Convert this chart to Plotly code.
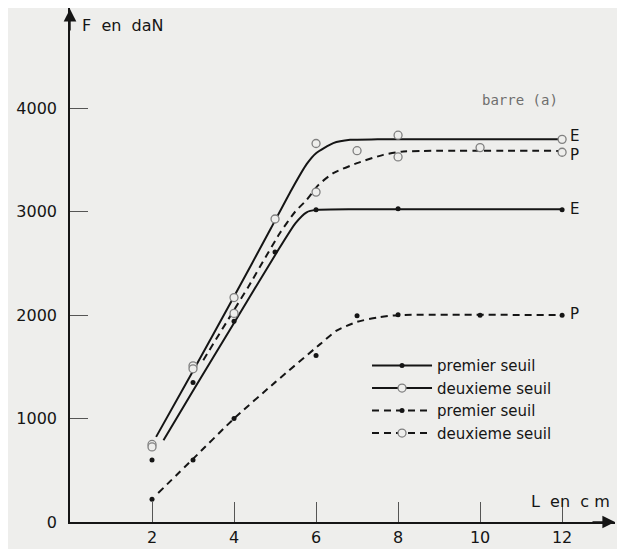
import plotly.graph_objects as go

# ---------------- data ----------------
# E, premier seuil (solid line, filled dots)
E1_L = [2, 3, 4, 5, 6, 8, 12]
E1_F = [600, 1350, 1940, 2610, 3020, 3030, 3020]
E1_curve_L = [2.28, 3, 4, 5, 5.5, 5.77, 6, 7, 12]
E1_curve_F = [790, 1270, 1925, 2580, 2890, 2995, 3018, 3025, 3025]

# E, deuxieme seuil (solid line, open circles)
E2_L = [2, 3, 4, 5, 6, 8, 12]
E2_F = [750, 1510, 2170, 2930, 3660, 3740, 3700]
E2_curve_L = [2.1, 3, 4, 4.9, 5.4, 5.77, 6.0, 6.42, 6.83, 7.5, 12]
E2_curve_F = [823, 1460, 2180, 2840, 3211, 3460, 3566, 3663, 3695, 3700, 3700]

# P, premier seuil (dashed line, filled dots)
P1_L = [2, 3, 4, 6, 7, 8, 10, 12]
P1_F = [220, 600, 1000, 1610, 1995, 2005, 2000, 2000]
P1_curve_L = [2.15, 3, 4, 5, 6.1, 6.5, 7, 7.5, 8, 12]
P1_curve_F = [280, 610, 1000, 1350, 1720, 1850, 1935, 1978, 2000, 2000]

# P, deuxieme seuil (dashed line, open circles)
P2_L = [2, 3, 4, 6, 7, 8, 10, 12]
P2_F = [726, 1481, 2017, 3190, 3590, 3530, 3620, 3575]
P2_curve_L = [3.25, 4, 4.35, 5.12, 5.49, 5.77, 6.06, 6.42, 7, 7.64, 8.13, 12]
P2_curve_F = [1565, 2050, 2275, 2795, 3000, 3114, 3260, 3373, 3470, 3550, 3582, 3588]

legend_names = ["premier seuil", "deuxieme seuil", "premier seuil", "deuxieme seuil"]

x_ticks = [2, 4, 6, 8, 10, 12]
y_ticks = [0, 1000, 2000, 3000, 4000]

# ---------------- styling ----------------
BG = "#eeeeec"
INK = "#151515"
CIRC = "#808080"
FONT = "DejaVu Sans"

fig = go.Figure()

series = [
    (E1_curve_L, E1_curve_F, E1_L, E1_F, "solid", "dot"),
    (E2_curve_L, E2_curve_F, E2_L, E2_F, "solid", "circle"),
    (P1_curve_L, P1_curve_F, P1_L, P1_F, "7px,5px", "dot"),
    (P2_curve_L, P2_curve_F, P2_L, P2_F, "7px,5px", "circle"),
]

def marker_style(kind):
    if kind == "dot":
        return dict(symbol="circle", size=5, color=INK, line=dict(width=0))
    return dict(symbol="circle", size=8, color=BG, line=dict(width=1.3, color=CIRC))

for i, (cl, cf, ml, mf, dash, kind) in enumerate(series):
    fig.add_trace(go.Scatter(
        x=cl, y=cf, mode="lines", showlegend=False, hoverinfo="skip",
        line=dict(color=INK, width=2, dash=dash, shape="spline", smoothing=0.6)))
    fig.add_trace(go.Scatter(
        x=ml, y=mf, mode="markers", showlegend=False,
        marker=marker_style(kind)))

# legend entries
for i, (cl, cf, ml, mf, dash, kind) in enumerate(series):
    fig.add_trace(go.Scatter(
        x=[None], y=[None], mode="lines+markers", name=legend_names[i],
        line=dict(color=INK, width=2, dash=dash), marker=marker_style(kind)))

# end labels E / P
ends = [(E1_L, E1_F, "E", 1), (E2_L, E2_F, "E", 3), (P1_L, P1_F, "P", 1), (P2_L, P2_F, "P", -3)]
for ml, mf, lab, ys in ends:
    fig.add_annotation(x=ml[-1], y=mf[-1], text=lab, showarrow=False,
                       xanchor="left", yanchor="middle", xshift=6, yshift=ys,
                       font=dict(family=FONT, size=15, color=INK))

# barre (a)
fig.add_annotation(x=0.899, y=0.821, xref="paper", yref="paper", text="barre (a)",
                   showarrow=False, xanchor="right", yanchor="middle",
                   font=dict(family="DejaVu Sans Mono", size=14, color="#6e6e6e"))

# axis titles
fig.add_annotation(x=0, y=1, xref="paper", yref="paper", text="F  en  daN",
                   showarrow=False, xanchor="left", yanchor="top", xshift=10, yshift=-6,
                   font=dict(family=FONT, size=16, color=INK))
fig.add_annotation(x=1, y=0, xref="paper", yref="paper", text="L  en  c m",
                   showarrow=False, xanchor="right", yanchor="bottom", xshift=-3, yshift=9,
                   font=dict(family=FONT, size=16, color=INK))

# axis arrows
fig.add_annotation(x=0, y=1, xref="paper", yref="paper", ax=0, ay=24,
                   text="", showarrow=True,
                   arrowhead=2, arrowsize=1.8, arrowwidth=1.4, arrowcolor=INK)
fig.add_annotation(x=1, y=0, xref="paper", yref="paper", ax=-24, ay=0,
                   text="", showarrow=True,
                   arrowhead=2, arrowsize=1.8, arrowwidth=1.4, arrowcolor=INK)

# the page adds an 8px body margin, so margins are set to compensate
fig.update_layout(
    width=625, height=549,
    margin=dict(l=62, r=18, t=0, b=35, autoexpand=False),
    paper_bgcolor=BG, plot_bgcolor=BG,
    font=dict(family=FONT, color=INK),
    legend=dict(x=0.545, y=0.336, xanchor="left", yanchor="top",
                bgcolor="rgba(0,0,0,0)", font=dict(family=FONT, size=15, color=INK),
                tracegroupgap=0, itemwidth=60),
    xaxis=dict(range=[0, 13.29], tickvals=x_ticks, ticktext=[str(v) for v in x_ticks],
               showgrid=False, zeroline=False, showline=True, linecolor=INK, linewidth=1.6,
               ticks="inside", ticklen=20, tickwidth=1, tickcolor="#555",
               tickfont=dict(family=FONT, size=16, color=INK), automargin=False),
    yaxis=dict(range=[0, 4970], tickvals=y_ticks, ticktext=[str(v) for v in y_ticks],
               showgrid=False, zeroline=False, showline=True, linecolor=INK, linewidth=1.6,
               ticks="inside", ticklen=18, tickwidth=1, tickcolor="#555",
               ticklabelstandoff=8,
               tickfont=dict(family=FONT, size=16, color=INK), automargin=False),
    showlegend=True,
)

fig.write_html("out.html")
